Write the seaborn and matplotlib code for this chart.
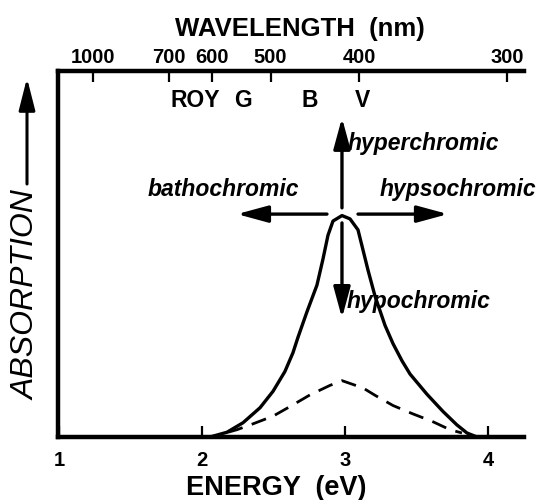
import matplotlib
matplotlib.use("Agg")
import matplotlib.pyplot as plt
import pandas as pd
import seaborn as sns

# ---------------- data ----------------
solid_energy = [2.056, 2.175, 2.287, 2.406, 2.497, 2.580, 2.636, 2.671, 2.734, 2.804,
                2.846, 2.881, 2.916, 2.979, 3.035, 3.091, 3.126, 3.161, 3.210, 3.280,
                3.336, 3.399, 3.455, 3.573, 3.685, 3.783, 3.853, 3.923]
solid_abs = [0.000, 0.013, 0.039, 0.080, 0.125, 0.179, 0.230, 0.272, 0.342, 0.415,
             0.486, 0.551, 0.590, 0.605, 0.596, 0.566, 0.511, 0.456, 0.385, 0.305,
             0.255, 0.208, 0.172, 0.117, 0.070, 0.033, 0.011, 0.000]
dashed_energy = [2.182, 2.245, 2.357, 2.497, 2.615, 2.755, 2.895, 2.979, 3.126, 3.210,
                 3.336, 3.476, 3.608, 3.734, 3.818]
dashed_abs = [0.013, 0.020, 0.036, 0.057, 0.083, 0.115, 0.141, 0.154, 0.134, 0.114,
              0.086, 0.063, 0.043, 0.020, 0.011]

energy_ticks = [1, 2, 3, 4]
wavelength_ticks = [1000, 700, 600, 500, 400, 300]
color_labels = ["ROY", "G", "B", "V"]
color_wavelengths = [636, 543, 450, 397]
shift_labels = ["hyperchromic", "bathochromic", "hypsochromic", "hypochromic"]

# ---------------- style ----------------
sns.set_style("white")
plt.rcParams["font.family"] = ["Liberation Sans", "DejaVu Sans"]

fig = plt.figure(figsize=(5.41, 5.0), dpi=100)
W, H = 541, 500
ax = fig.add_axes([58 / W, (H - 437) / H, (524 - 58) / W, (437 - 71) / H])

solid_df = pd.DataFrame({"energy": solid_energy, "absorption": solid_abs})
dashed_df = pd.DataFrame({"energy": dashed_energy, "absorption": dashed_abs})

sns.lineplot(data=solid_df, x="energy", y="absorption", ax=ax, color="black",
             linewidth=2.4, sort=False, estimator=None)
sns.lineplot(data=dashed_df, x="energy", y="absorption", ax=ax, color="black",
             linewidth=2.0, sort=False, estimator=None)
ax.lines[-1].set_dashes([5.5, 3.5])
for ln in ax.lines:
    ln.set_solid_joinstyle("round")
    ln.set_solid_capstyle("round")

ax.set_xlim(0.993, 4.252)
ax.set_ylim(0, 1)
ax.set_xlabel("")
ax.set_ylabel("")
ax.set_yticks([])

for s in ["left", "top", "bottom"]:
    ax.spines[s].set_visible(True)
    ax.spines[s].set_linewidth(3.2)
    ax.spines[s].set_color("black")
ax.spines["right"].set_visible(False)

ax.set_xticks(energy_ticks)
ax.set_xticklabels([str(v) for v in energy_ticks], fontweight="bold")
ax.tick_params(axis="x", direction="in", length=8, width=1.6, pad=10,
               labelsize=14.5, bottom=True, top=False, colors="black")

# top wavelength axis
axt = ax.twiny()
axt.set_xlim(ax.get_xlim())
axt.set_xticks([1240.0 / w for w in wavelength_ticks])
axt.set_xticklabels([str(w) for w in wavelength_ticks], fontweight="bold")
axt.tick_params(axis="x", direction="in", length=8, width=1.6, pad=3,
                labelsize=14.5, colors="black")
for s in axt.spines.values():
    s.set_visible(False)

fig.text(300 / W, 1 - 29 / H, "WAVELENGTH  (nm)", ha="center", va="center",
         fontsize=18.5, fontweight="bold", color="black")
fig.text(276 / W, 1 - 488 / H, "ENERGY  (eV)", ha="center", va="center",
         fontsize=19.5, fontweight="bold", color="black")

# colour-band labels
for lab, wl in zip(color_labels, color_wavelengths):
    ax.text(1240.0 / wl, 0.92, lab, ha="center", va="center", fontsize=16.5,
            fontweight="bold", color="black")

# ABSORPTION label with arrow
fig.text(27 / W, 1 - 295 / H, "ABSORPTION", rotation=90, ha="center", va="center",
         fontsize=23, style="italic", color="black")
ax.annotate("", xy=(27, H - 78), xytext=(27, H - 184),
            xycoords="figure pixels", textcoords="figure pixels",
            arrowprops=dict(arrowstyle="-|>,head_length=1.3,head_width=0.33",
                            mutation_scale=15, lw=2.2, color="black",
                            shrinkA=0, shrinkB=0),
            annotation_clip=False)

# shift arrows
aprops = dict(arrowstyle="-|>,head_length=1.25,head_width=0.34", mutation_scale=15,
              lw=2.4, color="black", shrinkA=0, shrinkB=0)
ax.annotate("", xy=(2.979, 0.872), xytext=(2.979, 0.626), arrowprops=aprops)
ax.annotate("", xy=(2.979, 0.325), xytext=(2.979, 0.585), arrowprops=aprops)
ax.annotate("", xy=(2.245, 0.609), xytext=(2.874, 0.609), arrowprops=aprops)
ax.annotate("", xy=(3.72, 0.609), xytext=(3.091, 0.609), arrowprops=aprops)

tkw = dict(fontsize=16.5, style="italic", fontweight="bold", ha="left",
           va="center", color="black", clip_on=False)
ax.text(3.02, 0.803, shift_labels[0], **tkw)
ax.text(1.62, 0.675, shift_labels[1], **tkw)
ax.text(3.245, 0.675, shift_labels[2], **tkw)
ax.text(3.014, 0.369, shift_labels[3], **tkw)

fig.savefig("out.png", dpi=100)
